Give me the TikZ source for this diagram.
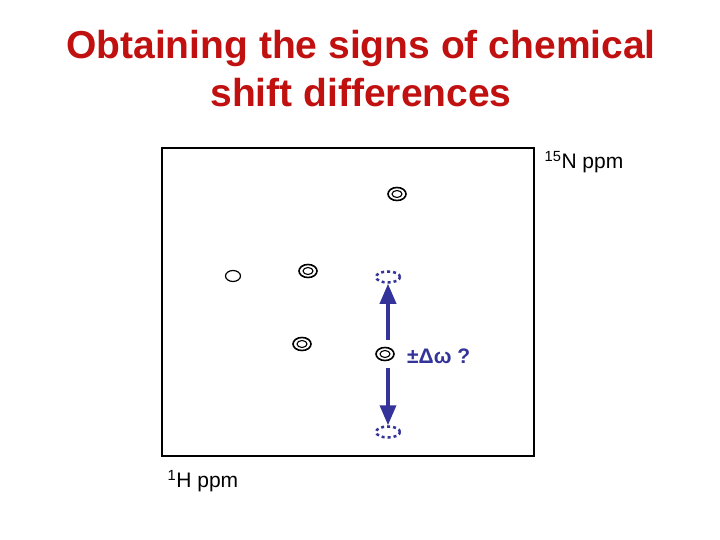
\documentclass[tikz,border=0pt]{standalone}
\usepackage{fontspec}
\setmainfont{Liberation Sans}
\usetikzlibrary{arrows.meta,shapes.geometric}
\definecolor{ttl}{RGB}{192,16,16}
\definecolor{arr}{RGB}{51,51,153}
\tikzset{pk/.style={draw=black,line width=1.6pt,ellipse,minimum width=18pt,minimum height=13pt,inner sep=0pt},
pkin/.style={draw=black,line width=1.1pt,ellipse,minimum width=10pt,minimum height=7pt,inner sep=0pt},
ghost/.style={draw=arr,line width=2.5pt,dash pattern=on 3pt off 3pt,ellipse,minimum width=24pt,minimum height=11pt,inner sep=0pt},
arrw/.style={draw=arr,line width=3.5pt,-{Triangle[length=20pt,width=16pt]}}}
\begin{document}
\begin{tikzpicture}[x=1pt,y=-1pt]
\useasboundingbox (0,0) rectangle (720,540);
\node[text=ttl,font=\bfseries\fontsize{39}{48}\selectfont,align=center] (t) at (361,69) {Obtaining the signs of chemical\\shift differences};
\node[draw,line width=1.2pt,minimum width=372pt,minimum height=308pt,inner sep=0pt] (box) at (348,302) {};
\node[font=\fontsize{21}{25}\selectfont] (n) at (584,162) {\textsuperscript{15}N ppm};
\node[font=\fontsize{21}{25}\selectfont] (h) at (203,481) {\textsuperscript{1}H ppm};
\foreach \n/\x/\y in {p1/397/194,p2/308/271,p3/302/344,p4/385/354}{
 \node[pk] (\n) at (\x,\y) {}; \node[pkin] (\n i) at (\x,\y) {};}
\node[pk,line width=1.2pt,minimum width=15pt,minimum height=11pt] (p5) at (233,276) {};
\node[ghost] (g1) at (388,277) {};
\node[ghost] (g2) at (388,432) {};
\coordinate (a1) at (388,340);
\coordinate (a2) at (388,368);
\draw[arrw] (a1) -- (g1.south);
\draw[arrw] (a2) -- (g2.north);
\node[text=arr,font=\bfseries\fontsize{21}{25}\selectfont,anchor=west,inner sep=0pt] (l) at (407,356) {±Δω ?};
\end{tikzpicture}
\end{document}
